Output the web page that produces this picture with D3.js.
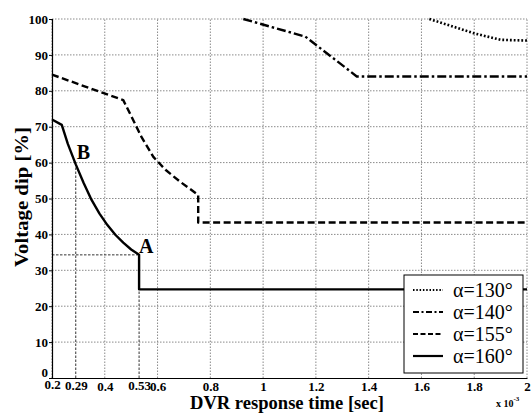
<!DOCTYPE html>
<html>
<head>
<meta charset="utf-8">
<script src="https://cdn.jsdelivr.net/npm/d3@7"></script>
<style>
body { margin: 0; background: #fff; }
</style>
</head>
<body>
<div class="chart"></div>
<script>
// tick values
var xTicks = [0.2, 0.29, 0.4, 0.53, 0.6, 0.8, 1, 1.2, 1.4, 1.6, 1.8, 2];
var xGrid = [0.2, 0.4, 0.6, 0.8, 1, 1.2, 1.4, 1.6, 1.8, 2];
var yTicks = [0, 10, 20, 30, 40, 50, 60, 70, 80, 90, 100];

// series (x in 1e-3 sec, y in %)
var a130x = [1.63, 1.8, 1.9, 2];
var a130y = [100, 96, 94.2, 94];
var a140x = [0.925, 1.16, 1.355, 2];
var a140y = [100, 95.1, 84, 84];
var a155x = [0.2, 0.47, 0.5, 0.54, 0.584, 0.63, 0.685, 0.754, 0.754, 2];
var a155y = [84.5, 77.4, 73, 67, 61.6, 58, 54.7, 51, 43.3, 43.3];
var a160x = [0.2, 0.237, 0.26, 0.29, 0.32, 0.35, 0.38, 0.41, 0.44, 0.47, 0.5, 0.53, 0.53, 2];
var a160y = [72, 70.5, 65.2, 59.5, 54.3, 49.6, 45.8, 42.6, 39.9, 37.7, 35.8, 34.3, 24.7, 24.7];

var legendNames = ["\u03b1=130\u00b0", "\u03b1=140\u00b0", "\u03b1=155\u00b0", "\u03b1=160\u00b0"];

// marked points A and B
var markA = [0.53, 34.3];
var markB = [0.29, 59.5];

var W = 532, H = 414;
var FONT = "'Liberation Serif'";
var svg = d3.select('.chart').append('svg')
	.attr('width', W)
	.attr('height', H);

var x = d3.scaleLinear().domain([0.2, 2]).range([52, 527]);
var y = d3.scaleLinear().domain([0, 100]).range([378, 19]);

// grid
svg.append('g').selectAll('line')
	.data(xGrid).enter().append('line')
	.attr('x1', function (d) { return x(d); })
	.attr('x2', function (d) { return x(d); })
	.attr('y1', y(0)).attr('y2', y(100))
	.style('stroke', '#8a8a8a').style('stroke-width', 1)
	.style('stroke-dasharray', '1.5,1.5');
svg.append('g').selectAll('line')
	.data(yTicks.slice(1)).enter().append('line')
	.attr('x1', x(0.2)).attr('x2', x(2))
	.attr('y1', function (d) { return y(d); })
	.attr('y2', function (d) { return y(d); })
	.style('stroke', '#8a8a8a').style('stroke-width', 1)
	.style('stroke-dasharray', '1.5,1.5');

// helper lines to A and B
var guide = svg.append('g')
	.style('stroke', '#333').style('stroke-width', 1)
	.style('stroke-dasharray', '2.5,1.5').style('fill', 'none');
guide.append('line')
	.attr('x1', x(0.2)).attr('x2', x(markA[0]))
	.attr('y1', y(markA[1])).attr('y2', y(markA[1]));
guide.append('line')
	.attr('x1', x(markA[0])).attr('x2', x(markA[0]))
	.attr('y1', y(0)).attr('y2', y(markA[1]));
guide.append('line')
	.attr('x1', x(markB[0])).attr('x2', x(markB[0]))
	.attr('y1', y(0)).attr('y2', y(markB[1]));

// axes
var yAxis = svg.append('g')
	.attr('transform', 'translate(' + x(0.2) + ',0)')
	.call(d3.axisLeft(y).tickValues(yTicks).tickSize(3).tickPadding(1).tickFormat(d3.format('d')));
var xAxis = svg.append('g')
	.attr('transform', 'translate(0,' + y(0) + ')')
	.call(d3.axisBottom(x).tickValues(xTicks).tickSize(0).tickPadding(0).tickFormat(function (d) { return String(d); }));

[yAxis, xAxis].forEach(function (g) {
	g.select('.domain').style('stroke', '#000').style('stroke-width', 1.2);
	g.selectAll('.tick line').style('stroke', '#000');
	g.selectAll('text')
		.style('font-family', FONT)
		.style('font-size', '13px')
		.style('font-weight', 'bold')
		.style('fill', '#000');
});
yAxis.selectAll('.tick text').attr('dy', '0.32em');
yAxis.selectAll('.tick').filter(function (d) { return d === 0; })
	.select('text').attr('dy', '-0.15em');
xAxis.selectAll('.tick text')
	.attr('dy', null)
	.attr('y', function (d) {
		if (d === 0.2) return 11;
		if (d === 0.29 || d === 0.53) return 11.5;
		return 13;
	});

// series
var line = d3.line()
	.x(function (d) { return x(d[0]); })
	.y(function (d) { return y(d[1]); });

function pairs(xs, ys) {
	return xs.map(function (v, i) { return [v, ys[i]]; });
}

var styles = [
	{ dash: '1.8,2', w: 2.6 },
	{ dash: '9,3,2.5,3', w: 2.4 },
	{ dash: '7,3.5', w: 2.4 },
	{ dash: null, w: 2.4 }
];
var series = [pairs(a130x, a130y), pairs(a140x, a140y), pairs(a155x, a155y), pairs(a160x, a160y)];

svg.append('g').selectAll('path')
	.data(series).enter().append('path')
	.attr('d', line)
	.style('fill', 'none')
	.style('stroke', '#000')
	.style('stroke-linejoin', 'round')
	.style('stroke-width', function (d, i) { return styles[i].w; })
	.style('stroke-dasharray', function (d, i) { return styles[i].dash; });

// point labels
svg.append('text')
	.attr('x', x(markA[0])).attr('y', y(markA[1]) - 2)
	.style('font-family', FONT)
	.style('font-weight', 'bold').style('font-size', '20px')
	.text('A');
svg.append('text')
	.attr('x', x(markB[0]) + 1).attr('y', y(markB[1]) - 5)
	.style('font-family', FONT)
	.style('font-weight', 'bold').style('font-size', '20px')
	.text('B');

// legend
var lg = svg.append('g');
lg.append('rect')
	.attr('x', 404).attr('y', 275).attr('width', 119).attr('height', 98)
	.style('fill', '#fff').style('stroke', '#000').style('stroke-width', 1);
var item = lg.selectAll('g.item')
	.data(legendNames).enter().append('g')
	.attr('transform', function (d, i) { return 'translate(0,' + (290 + i * 22) + ')'; });
item.append('line')
	.attr('x1', 413).attr('x2', 443).attr('y1', 0).attr('y2', 0)
	.style('stroke', '#000')
	.style('stroke-width', function (d, i) { return i === 0 ? 1.8 : 2.2; })
	.style('stroke-dasharray', function (d, i) {
		return ['1.5,1.8', '6,2.5,2,2.5', '5,2.5', null][i];
	});
item.append('text')
	.attr('x', 453).attr('y', 0).attr('dy', '0.34em')
	.style('font-family', FONT)
	.style('font-size', '20px')
	.text(function (d) { return d; });

// axis titles
svg.append('text')
	.attr('x', 287).attr('y', 409)
	.attr('text-anchor', 'middle')
	.attr('textLength', 194).attr('lengthAdjust', 'spacingAndGlyphs')
	.style('font-family', FONT)
	.style('font-weight', 'bold').style('font-size', '18px')
	.text('DVR response time [sec]');
svg.append('text')
	.attr('transform', 'translate(28,197) rotate(-90)')
	.attr('text-anchor', 'middle')
	.attr('textLength', 140).attr('lengthAdjust', 'spacingAndGlyphs')
	.style('font-family', FONT)
	.style('font-weight', 'bold').style('font-size', '19px')
	.text('Voltage dip [%]');

// exponent note
var ex = svg.append('text')
	.attr('x', 496).attr('y', 407)
	.style('font-family', FONT)
	.style('font-size', '10px').style('font-weight', 'bold');
ex.append('tspan').text('x 10');
ex.append('tspan').attr('dy', -6).style('font-size', '7px').text('-3');
</script>
</body>
</html>
